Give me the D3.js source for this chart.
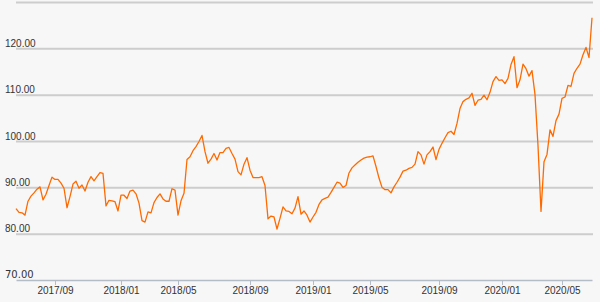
<!DOCTYPE html>
<html>
<head>
<meta charset="utf-8">
<script src="https://cdn.jsdelivr.net/npm/d3@7"></script>
<style>
body{margin:0;background:#f7f7f7;}
#grafico{width:600px;height:302px;}
</style>
</head>
<body>
<div id="grafico"></div>
<script>
// valor neto, una muestra cada ~4 sesiones
var valores=[
85.4,84.6,84.5,84.0,87.0,88.1,88.8,89.6,90.1,87.3,
88.5,90.4,92.2,91.7,91.7,90.9,89.8,85.6,88.0,90.7,
91.3,89.8,90.5,89.2,91.1,92.3,91.4,92.3,93.2,93.0,
86.0,87.2,87.1,86.9,84.9,88.3,88.3,87.6,89.2,89.4,
88.6,86.6,82.8,82.5,84.7,84.5,86.7,87.8,88.6,87.5,
87.0,87.0,89.7,89.4,84.0,87.1,88.7,96.0,96.6,97.9,
98.8,99.9,101.2,97.7,95.2,96.1,97.3,95.9,97.5,97.5,
98.4,98.6,97.3,96.1,93.4,92.7,95.0,96.4,93.7,92.1,
92.1,92.1,92.3,90.4,83.2,83.8,83.6,81.0,83.3,85.8,
84.9,84.8,84.3,85.5,88.0,84.2,84.9,84.0,82.5,83.6,
84.6,86.3,87.3,87.6,87.9,88.9,90.0,91.1,90.9,90.0,
90.4,93.1,94.2,94.8,95.4,95.9,96.3,96.5,96.6,96.8,
94.5,92.0,90.0,89.5,89.5,88.8,90.1,91.1,92.2,93.5,
93.7,94.1,94.3,95.0,97.7,97.0,95.0,97.0,97.7,98.7,
96.0,98.2,99.5,100.7,101.8,102.1,101.4,103.8,107.0,108.5,
109.0,109.3,110.3,107.7,108.8,109.0,109.9,108.9,110.5,112.8,
113.9,113.1,113.2,112.4,113.5,116.5,118.2,111.5,113.2,116.6,
115.6,114.0,115.2,110.0,99.0,84.8,95.5,97.1,102.4,101.0,
104.4,105.8,109.2,109.5,112.0,111.8,114.6,115.7,116.6,118.6,
120.2,118.0,126.6
]
var etiquetas=["2017/09","2018/01","2018/05","2018/09","2019/01","2019/05","2019/09","2020/01","2020/05"]
// muestra donde empieza cada mes rotulado
var posEtiquetas=[13,35,54,78,99,118,141,162,182]
var marcasY=[80,90,100,110,120,130]

grafico()
function grafico(){
	var ancho=600, alto=302
	var svg=d3.select("#grafico").append("svg")
		.attr("width",ancho)
		.attr("height",alto)
		.style("font-family","'DejaVu Sans', Verdana, sans-serif")

	svg.append("rect").attr("width",ancho).attr("height",alto).attr("fill","#f7f7f7")

	var escalaX=d3.scaleLinear()
		.domain([0,valores.length-1])
		.range([16,592])
	var escalaY=d3.scaleLinear()
		.domain([70,130])
		.range([280,2])

	//lineas de grilla con etiquetas arriba a la izquierda
	var grilla=svg.append("g")
		.attr("transform","translate(16,0)")
		.call(d3.axisRight(escalaY).tickValues(marcasY).tickSize(577)
			.tickFormat(d=>d<130?d3.format(".2f")(d):""))
	grilla.select(".domain").remove()
	grilla.selectAll("line").attr("stroke","#cdcdcd").attr("stroke-width",2)
	grilla.selectAll("text")
		.attr("x",-11).attr("dy",-2)
		.attr("text-anchor","start")
		.attr("fill","#333").style("font-size","10px")

	//etiqueta 70.00 sobre el eje
	svg.append("text")
		.attr("x",5).attr("y",escalaY(70)-2)
		.attr("fill","#333").style("font-size","10px")
		.text(d3.format(".2f")(70))

	var ejeX=svg.append("g")
		.attr("transform","translate(0,"+escalaY(70)+")")
		.call(d3.axisBottom(escalaX).tickValues(posEtiquetas).tickSize(5).tickSizeOuter(0)
			.tickFormat((d,i)=>etiquetas[i]))
	ejeX.select(".domain").attr("stroke","#b4bcc8").attr("stroke-width",1.5)
	ejeX.selectAll("line").attr("stroke","#b4bcc8")
	ejeX.selectAll("text").attr("fill","#333").attr("y",7).attr("dy","0.72em").style("font-size","10px")

	var linea=d3.line()
		.x((d,i)=>escalaX(i))
		.y(d=>escalaY(d))
	svg.append("path")
		.datum(valores)
		.attr("d",linea)
		.attr("fill","none")
		.attr("stroke","#ff6a00")
		.attr("stroke-width",1.3)
		.attr("stroke-linejoin","round")
}
</script>
</body>
</html>
